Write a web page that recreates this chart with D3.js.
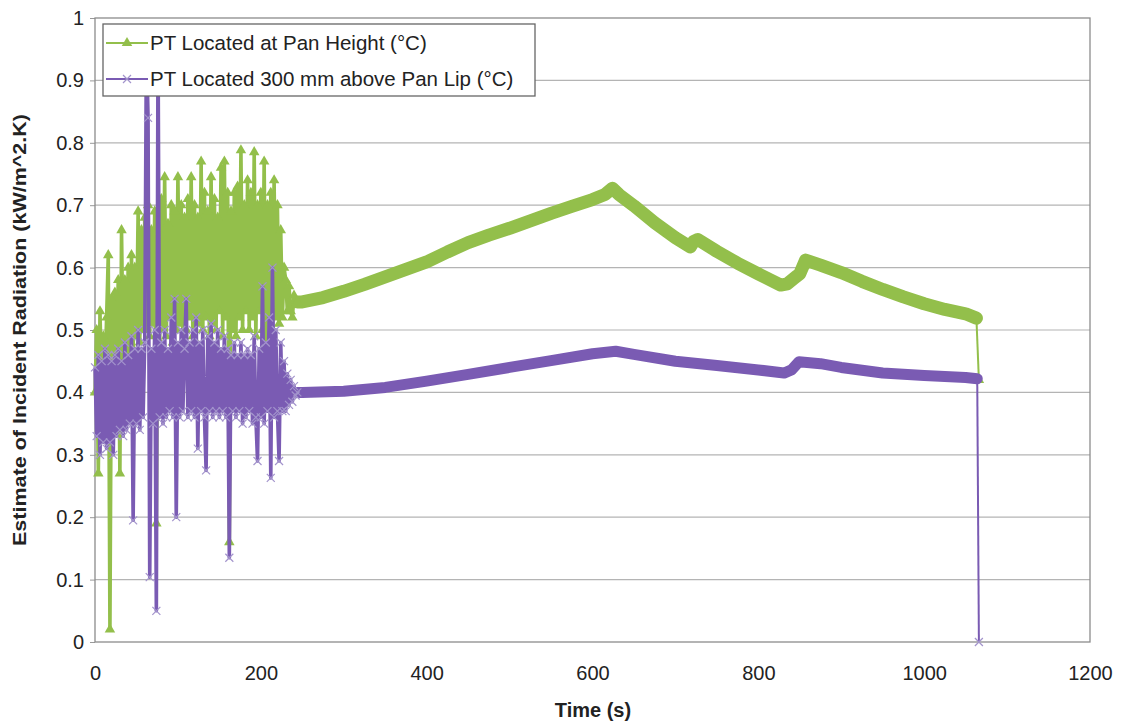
<!DOCTYPE html>
<html><head><meta charset="utf-8">
<script src="https://cdn.jsdelivr.net/npm/d3@7"></script>
<style>
body{margin:0;background:#fff;}
text{font-family:"Liberation Sans",Arial,sans-serif;fill:#222;}
</style>
</head><body>
<svg id="chart" width="1121" height="725"></svg>
<script>
// ---------------- data ----------------
const xTicks = [0, 200, 400, 600, 800, 1000, 1200];
const yTicks = [0, 0.1, 0.2, 0.3, 0.4, 0.5, 0.6, 0.7, 0.8, 0.9, 1];
const seriesNames = ["PT Located at Pan Height (\u00B0C)", "PT Located 300 mm above Pan Lip (\u00B0C)"];

// noisy start (seconds)
const noisyTimes = [0,2,4,6,8,10,12,14,16,18,20,22,24,26,28,30,32,34,36,38,40,42,44,46,48,50,52,54,56,58,
  60,62,64,66,68,70,72,74,76,78,80,82,84,86,88,90,92,94,96,98,100,102,104,106,108,110,112,114,116,118,
  120,122,124,126,128,130,132,134,136,138,140,142,144,146,148,150,152,154,156,158,160,162,164,166,168,170,
  172,174,176,178,180,182,184,186,188,190,192,194,196,198,200,202,204,206,208,210,212,214,216,218,220,222,224,226,228,
  230,232,234,236,238,240,242,244];

const greenNoisy = [
  0.40,0.50,0.27,0.53,0.41,0.49,0.43,0.52,0.62,0.02,   // 0-18
  0.55,0.42,0.56,0.44,0.58,0.27,0.66,0.45,0.58,0.46,   // 20-38
  0.60,0.46,0.62,0.47,0.60,0.49,0.69,0.48,0.66,0.50,   // 40-58
  0.68,0.50,0.70,0.49,0.66,0.51,0.69,0.19,0.66,0.48,   // 60-78
  0.71,0.50,0.745,0.49,0.67,0.52,0.70,0.48,0.69,0.50,  // 80-98
  0.745,0.51,0.70,0.47,0.68,0.50,0.71,0.52,0.745,0.49, // 100-118
  0.70,0.48,0.68,0.51,0.77,0.50,0.72,0.52,0.69,0.49,   // 120-138
  0.745,0.51,0.71,0.50,0.68,0.53,0.76,0.49,0.77,0.52,  // 140-158
  0.72,0.16,0.69,0.50,0.72,0.49,0.73,0.52,0.788,0.50,  // 160-178
  0.70,0.53,0.74,0.50,0.72,0.52,0.785,0.49,0.70,0.53,  // 180-198
  0.72,0.50,0.77,0.47,0.70,0.52,0.72,0.50,0.74,0.52,   // 200-218
  0.70,0.51,0.66,0.52,0.60,                            // 220-228
  0.58,0.53,0.57,0.53,0.52,0.555,0.54,0.545];          // 230-244

const purpleNoisy = [
  0.44,0.33,0.46,0.30,0.45,0.32,0.47,0.31,0.46,0.32,   // 0-18
  0.45,0.30,0.46,0.33,0.47,0.34,0.45,0.33,0.48,0.34,   // 20-38
  0.46,0.35,0.49,0.195,0.47,0.35,0.50,0.34,0.47,0.36,  // 40-58
  0.48,0.96,0.84,0.104,0.47,0.35,0.50,0.05,0.97,0.36,  // 60-78
  0.48,0.35,0.50,0.36,0.47,0.37,0.52,0.36,0.55,0.20,   // 80-98
  0.48,0.36,0.50,0.37,0.47,0.55,0.36,0.48,0.37,0.50,   // 100-118
  0.36,0.52,0.31,0.48,0.37,0.50,0.36,0.275,0.49,0.37,  // 120-138
  0.51,0.36,0.48,0.37,0.50,0.36,0.47,0.37,0.49,0.36,   // 140-158
  0.47,0.135,0.46,0.37,0.48,0.36,0.46,0.37,0.48,0.35,  // 160-178
  0.46,0.36,0.47,0.37,0.46,0.35,0.49,0.36,0.29,0.47,   // 180-198
  0.36,0.57,0.35,0.48,0.37,0.52,0.263,0.60,0.36,0.50,  // 200-218
  0.37,0.29,0.48,0.37,0.45,                            // 220-228
  0.37,0.43,0.38,0.42,0.385,0.41,0.395,0.40];          // 230-244

// smooth part
const greenSmoothTimes = [250,275,300,325,350,375,400,425,450,475,500,525,550,575,600,615,624,632,650,675,700,718,722,727,
  750,775,800,827,835,845,850,857,875,900,925,950,975,1000,1025,1050,1063];
const greenSmooth = [0.545,0.552,0.562,0.573,0.585,0.597,0.609,0.625,0.640,0.652,0.663,0.675,0.687,0.698,0.709,0.717,0.727,0.717,0.699,0.672,0.648,0.633,0.642,0.645,
  0.626,0.607,0.590,0.572,0.574,0.585,0.590,0.612,0.604,0.592,0.578,0.565,0.553,0.542,0.533,0.526,0.519];
const purpleSmoothTimes = [250,300,350,400,450,500,550,600,628,650,700,750,800,831,840,849,875,900,950,1000,1050,1064];
const purpleSmooth = [0.400,0.402,0.408,0.418,0.429,0.440,0.451,0.462,0.466,0.461,0.450,0.443,0.436,0.431,0.436,0.449,0.446,0.440,0.431,0.427,0.424,0.422];

// final drop
const endTime = [1066];
const greenEnd = [0.42];
const purpleEnd = [0.0];

// ---------------- chart ----------------
const svg = d3.select("#chart");
const pLeft = 95, pRight = 1090, pTop = 18, pBottom = 642;
const x = d3.scaleLinear().domain([0, 1200]).range([pLeft, pRight]);
const y = d3.scaleLinear().domain([0, 1]).range([pBottom, pTop]);

const GREEN = "#93bf4b", PURPLE = "#7a5bb3", PURPLE_MK = "#a394cc";

// gridlines
svg.append("g").selectAll("line").data(yTicks.slice(1, -1)).join("line")
  .attr("x1", pLeft).attr("x2", pRight).attr("y1", d => y(d)).attr("y2", d => y(d))
  .attr("stroke", "#b4b4b4").attr("stroke-width", 1.2);

// axes
const yAxis = svg.append("g").attr("transform", `translate(${pLeft},0)`)
  .call(d3.axisLeft(y).tickValues(yTicks).tickFormat(d3.format("~g")).tickSize(5).tickPadding(6));
const xAxis = svg.append("g").attr("transform", `translate(0,${pBottom})`)
  .call(d3.axisBottom(x).tickValues(xTicks).tickFormat(d3.format("d")).tickSize(0).tickPadding(24));
[yAxis, xAxis].forEach(a => {
  a.select(".domain").remove();
  a.selectAll("line").attr("stroke", "#999");
  a.selectAll("text").attr("font-size", 20).attr("fill", "#222");
});

// plot border
svg.append("rect").attr("x", pLeft).attr("y", pTop).attr("width", pRight - pLeft).attr("height", pBottom - pTop)
  .attr("fill", "none").attr("stroke", "#8c8c8c").attr("stroke-width", 1.3);

function build(noisy, sTimes, sVals, eVals) {
  const n = noisyTimes.map((t, i) => ({t, v: noisy[i]}));
  const s = sTimes.map((t, i) => ({t, v: sVals[i]}));
  const e = endTime.map((t, i) => ({t, v: eVals[i]}));
  return {n, s, e};
}
const green = build(greenNoisy, greenSmoothTimes, greenSmooth, greenEnd);
const purple = build(purpleNoisy, purpleSmoothTimes, purpleSmooth, purpleEnd);

const line = d3.line().x(d => x(d.t)).y(d => y(d.v));
const tri = d3.symbol().type(d3.symbolTriangle).size(48);
const crossPath = "M-4,-4L4,4M-4,4L4,-4";

function drawSeries(sr, color, thick, marker) {
  const g = svg.append("g");
  // noisy part: dense zig-zag
  g.append("path").datum(sr.n).attr("d", line).attr("fill", "none")
    .attr("stroke", color).attr("stroke-width", 3.6).attr("stroke-linejoin", "round");
  // final drop
  g.append("path").datum([sr.s[sr.s.length - 1]].concat(sr.e)).attr("d", line).attr("fill", "none")
    .attr("stroke", color).attr("stroke-width", 2);
  // dense marker band in the smooth part
  g.append("path").datum([sr.n[sr.n.length - 1]].concat(sr.s)).attr("d", line).attr("fill", "none")
    .attr("stroke", color).attr("stroke-width", thick).attr("stroke-linejoin", "round").attr("stroke-linecap", "round");
  const pts = sr.n.concat(sr.e);
  if (marker === "tri") {
    g.selectAll("path.mk").data(pts).join("path").attr("class", "mk")
      .attr("d", tri).attr("transform", d => `translate(${x(d.t)},${y(d.v)})`).attr("fill", color);
  } else {
    g.selectAll("path.mk").data(pts).join("path").attr("class", "mk")
      .attr("d", crossPath).attr("transform", d => `translate(${x(d.t)},${y(d.v)})`)
      .attr("stroke", PURPLE_MK).attr("stroke-width", 1.2).attr("fill", "none");
  }
}
drawSeries(green, GREEN, 13, "tri");
drawSeries(purple, PURPLE, 11, "x");

// legend
const lg = svg.append("g");
lg.append("rect").attr("x", 103).attr("y", 24).attr("width", 432).attr("height", 72)
  .attr("fill", "#fff").attr("stroke", "#666").attr("stroke-width", 1.3);
const rows = [{name: seriesNames[0], color: GREEN, m: "tri", cy: 43}, {name: seriesNames[1], color: PURPLE, m: "x", cy: 79}];
rows.forEach(r => {
  lg.append("line").attr("x1", 106).attr("x2", 148).attr("y1", r.cy).attr("y2", r.cy)
    .attr("stroke", r.color).attr("stroke-width", 2.2);
  if (r.m === "tri") lg.append("path").attr("d", tri).attr("transform", `translate(127,${r.cy})`).attr("fill", r.color);
  else lg.append("path").attr("d", crossPath).attr("transform", `translate(127,${r.cy})`).attr("stroke", PURPLE_MK).attr("stroke-width", 1.2);
  lg.append("text").attr("x", 150).attr("y", r.cy).attr("dy", "0.36em").attr("font-size", 20.5).text(r.name);
});

// axis titles
svg.append("text").attr("x", 593).attr("y", 717).attr("text-anchor", "middle")
  .attr("font-size", 20).attr("font-weight", "bold").text("Time (s)");
svg.append("text").attr("transform", `translate(26,${(pTop + pBottom) / 2}) rotate(-90)`)
  .attr("text-anchor", "middle").attr("font-size", 18).attr("font-weight", "bold")
  .attr("textLength", 432).attr("lengthAdjust", "spacingAndGlyphs")
  .text("Estimate of Incident Radiation (kW/m^2.K)");
</script>
</body></html>
